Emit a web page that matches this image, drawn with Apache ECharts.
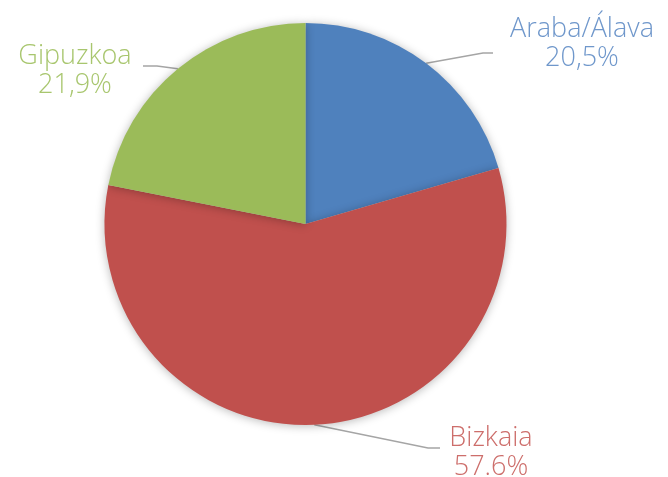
<!DOCTYPE html>
<html>
<head>
<meta charset="utf-8">
<script src="https://cdn.jsdelivr.net/npm/echarts@6/dist/echarts.min.js"></script>
<style>
html,body{margin:0;padding:0;background:#fff;}
#chart{width:668px;height:477px;}
</style>
</head>
<body>
<div id="chart"></div>
<script>
const categories = ['Araba/Álava', 'Bizkaia', 'Gipuzkoa'];
const values = [20.5, 57.6, 21.9];
const valueLabels = ['20,5%', '57.6%', '21,9%'];

const sliceColors = ['#4F81BD', '#C0504D', '#9BBB59'];
const textColors = ['#6F97CB', '#CD6E6B', '#A8C66E'];

// label placement (style/layout only)
const labelLayouts = [
  { x: 582, y: 44, p1: [483, 53], p2: [493, 53] },
  { x: 491, y: 453, p1: [428, 448], p2: [440, 448] },
  { x: 75, y: 71, p1: [157, 66], p2: [143, 66] }
];

const chart = echarts.init(document.getElementById('chart'));
chart.setOption({
  animation: false,
  series: [{
    type: 'pie',
    center: [305.5, 224],
    radius: 201,
    startAngle: 90,
    clockwise: true,
    data: categories.map((c, i) => ({
      name: c,
      value: values[i],
      itemStyle: { color: sliceColors[i] },
      label: { color: textColors[i] }
    })),
    itemStyle: {
      borderWidth: 0,
      shadowBlur: 10,
      shadowColor: 'rgba(0,0,0,0.28)',
      shadowOffsetX: 0,
      shadowOffsetY: 1
    },
    label: {
      show: true,
      position: 'outside',
      formatter: p => p.name + '\n' + valueLabels[p.dataIndex],
      fontFamily: 'Open Sans',
      fontWeight: 300,
      fontSize: 27,
      lineHeight: 29,
      align: 'center'
    },
    labelLine: {
      show: true,
      length: 20,
      length2: 10,
      lineStyle: { color: '#A5A5A5', width: 1.5 }
    },
    labelLayout: function (p) {
      const L = labelLayouts[p.dataIndex];
      const start = (p.labelLinePoints && p.labelLinePoints[0]) || L.p1;
      return {
        x: L.x,
        y: L.y,
        align: 'center',
        verticalAlign: 'middle',
        labelLinePoints: [start, L.p1, L.p2]
      };
    }
  }]
});
</script>
</body>
</html>
